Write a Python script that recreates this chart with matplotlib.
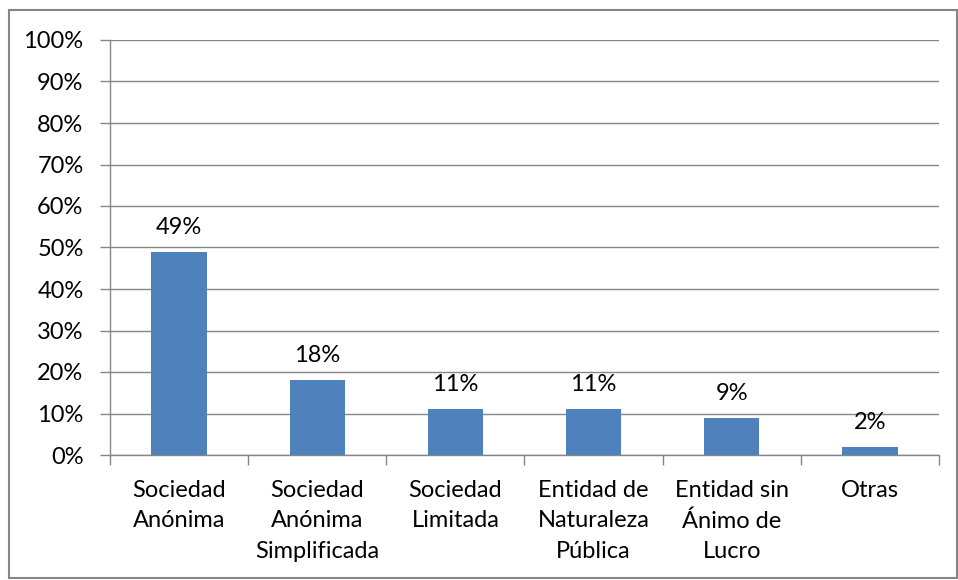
import numpy as np
import matplotlib.pyplot as plt
from matplotlib.patches import Rectangle

categories = ["Sociedad\nAnónima", "Sociedad\nAnónima\nSimplificada", "Sociedad\nLimitada",
              "Entidad de\nNaturaleza\nPública", "Entidad sin\nÁnimo de\nLucro", "Otras"]
values = [49, 18, 11, 11, 9, 2]
yticks = list(range(0, 101, 10))

plt.rcParams['font.family'] = ['Lato', 'DejaVu Sans']
grey = '#868686'
fs = 17

fig = plt.figure(figsize=(9.58, 5.8), dpi=100)
ax = fig.add_axes([110 / 958, 125 / 580, 829 / 958, 415 / 580])

x = np.arange(len(values))
ax.bar(x, values, width=0.4, color='#4F81BD', zorder=3)

for xi, v in zip(x, values):
    ax.annotate(f"{v}%", (xi, v), xytext=(0, 10), textcoords='offset points',
                ha='center', va='bottom', fontsize=fs)

ax.set_xlim(-0.5, len(values) - 0.5)
ax.set_ylim(0, 100)
ax.set_yticks(yticks)
ax.set_yticklabels([f"{t}%" for t in yticks], fontsize=fs)
ax.yaxis.grid(True, color=grey, linewidth=1, zorder=0)

ax.set_xticks(x)
ax.set_xticklabels(categories, fontsize=fs, linespacing=1.55)
ax.set_xticks(np.arange(-0.5, len(values)), minor=True)
ax.tick_params(axis='x', which='major', length=0, pad=18)
ax.tick_params(axis='x', which='minor', length=7, color=grey, width=1)
ax.tick_params(axis='y', length=7, color=grey, width=1, pad=12)

for s in ['top', 'right']:
    ax.spines[s].set_visible(False)
for s in ['left', 'bottom']:
    ax.spines[s].set_color(grey)
    ax.spines[s].set_linewidth(1)

fig.patches.append(Rectangle((9 / 958, 2 / 580), 948 / 958, 568 / 580, transform=fig.transFigure,
                             fill=False, edgecolor=grey, linewidth=1.5))

fig.savefig("out.png", dpi=100)
